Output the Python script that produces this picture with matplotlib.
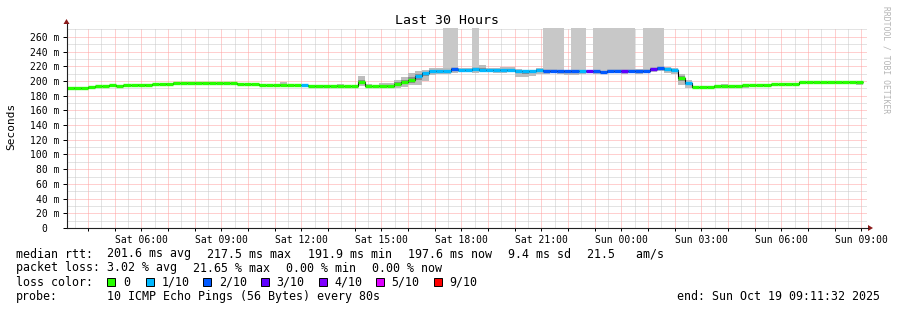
import matplotlib
matplotlib.use("Agg")
import matplotlib.pyplot as plt
from matplotlib.lines import Line2D
from matplotlib.patches import Rectangle, Polygon
import numpy as np

W, H = 897, 310
plt.rcParams['font.family'] = ['DejaVu Sans Mono']

# window: Sat 03:11:32 -> Sun 09:11:32, bins of 16 min
t0 = 3 + 11 / 60 + 32 / 3600
korak = 16 / 60

# median rtt per bin (ms)
median = [191, 191, 191, 192, 193, 193, 194, 193.5, 194.5, 194.5,
          195, 195, 196, 196, 196.5, 197.5, 197, 197.5, 197.5, 197.5,
          197.5, 197, 197, 197, 196, 196, 196, 195, 194.5, 194.5,
          194.5, 194.5, 194.5, 194, 193.5, 193.5, 193.5, 193.5, 193.5, 193,
          193, 198, 193, 192.5, 192.5, 192.5, 195.5, 198.5, 201, 207,
          211, 214, 214, 214, 216, 215.5, 215.5, 216, 215.5, 215.5,
          215.5, 215.5, 215.5, 214, 213, 213, 214.5, 214, 214, 213.5,
          213.5, 213.5, 213.5, 213.5, 213, 212, 214, 214, 214, 214,
          214, 214, 216.5, 217.5, 216.5, 214.5, 204, 197, 192, 191.5,
          192, 192.5, 193, 193, 193.5, 194, 194.5, 194.5, 195, 195.5,
          195.5, 196.5, 196.5, 198, 198, 198, 198, 198, 198, 198,
          198, 198]

# lost pings out of 10 per bin
izguba = [0, 0, 0, 0, 0, 0, 0, 0, 0, 0,
          0, 0, 0, 0, 0, 0, 0, 0, 0, 0,
          0, 0, 0, 0, 0, 0, 0, 0, 0, 0,
          0, 0, 0, 1, 0, 0, 0, 0, 0, 0,
          0, 0, 0, 0, 0, 0, 0, 0, 0, 1,
          1, 1, 1, 1, 2, 1, 1, 1, 1, 1,
          1, 1, 1, 1, 1, 1, 1, 2, 2, 2,
          2, 2, 1, 3, 2, 2, 2, 2, 3, 2,
          2, 2, 3, 2, 1, 1, 0, 1, 0, 0,
          0, 0, 0, 0, 0, 0, 0, 0, 0, 0,
          0, 0, 0, 0, 0, 0, 0, 0, 0, 0,
          0, 0]

# smoke spread below / above the median (ms)
smoke_dn = [2.5, 3, 3, 2.5, 1, 1, 1, 1.5, 1, 1,
            1, 1, 1, 1, 1, 1, 1, 1, 1, 1,
            1, 1, 1, 1, 1, 1, 1, 1, 1, 1,
            1, 3, 1, 1, 1, 1, 1, 1, 1, 1,
            1, 5, 1, 1, 1, 1, 5.5, 6.5, 7, 12,
            11, 6, 5, 4, 5, 4, 4, 5, 4, 4,
            5, 5, 4, 8, 7, 6, 5, 4, 3, 4,
            6, 6, 4, 3, 4, 3, 3, 3, 4, 3,
            4, 3, 4, 4, 6, 5, 10, 7, 2, 1,
            1, 1, 1, 1, 2, 3, 1, 1, 1, 1,
            1, 1, 1, 1, 1, 1, 2, 2, 1, 2,
            1, 3]
smoke_up = [0.5, 0.5, 0.5, 0.5, 0.5, 0.5, 0.5, 0.5, 0.5, 0.5,
            0.5, 0.5, 0.5, 0.5, 0.5, 0.5, 0.5, 0.5, 0.5, 0.5,
            0.5, 0.5, 0.5, 0.5, 0.5, 0.5, 0.5, 0.5, 0.5, 0.5,
            3.5, 0.5, 0.5, 0.5, 0.5, 0.5, 0.5, 0.5, 3, 0.5,
            0.5, 8.5, 3, 1, 5, 5, 5.5, 7.5, 9.5, 6.5,
            4, 3, 3, 3, 3, 2, 2, 3, 6, 2,
            2, 3, 3, 2, 2, 2, 3, 2, 2, 2,
            2, 2, 2, 2, 2, 2, 2, 2, 2, 2,
            2, 2, 3, 3, 3, 3, 6, 4, 1, 0.5,
            0.5, 2.5, 2.5, 0.5, 0.5, 0.5, 0.5, 0.5, 0.5, 0.5,
            0.5, 0.5, 0.5, 0.5, 0.5, 0.5, 0.5, 0.5, 0.5, 0.5,
            0.5, 0.5]

# bins where smoke is missing (drawn up to the top)
loss_bins = [53, 54, 57, 67, 68, 69, 71, 72, 74, 75, 76, 77, 78, 79, 81, 82, 83]

loss_labels = ['0', '1/10', '2/10', '3/10', '4/10', '5/10', '9/10']
loss_colors = ['#26ff00', '#00b8ff', '#0059ff', '#5e00ff', '#7e00ff', '#dd00ff', '#ff0000']
barve = {0: '#26ff00', 1: '#00b8ff', 2: '#0059ff', 3: '#5e00ff', 4: '#7e00ff', 5: '#dd00ff'}

tick_hours = [6, 9, 12, 15, 18, 21, 24, 27, 30, 33]
tick_labels = ['Sat 06:00', 'Sat 09:00', 'Sat 12:00', 'Sat 15:00', 'Sat 18:00',
               'Sat 21:00', 'Sun 00:00', 'Sun 03:00', 'Sun 06:00', 'Sun 09:00']

rtt_items = ['201.6 ms avg', '217.5 ms max', '191.9 ms min', '197.6 ms now', '9.4 ms sd', '21.5   am/s']
loss_items = ['3.02 % avg', '21.65 % max', '0.00 % min', '0.00 % now']
probe_text = '10 ICMP Echo Pings (56 Bytes) every 80s'
end_text = 'end: Sun Oct 19 09:11:32 2025'


def fx(x):
    return x / W


def fy(y):
    return 1 - y / H


fig = plt.figure(figsize=(W / 100, H / 100), dpi=100)
fig.patch.set_facecolor('white')
ax = fig.add_axes([fx(66.5), fy(228), 800 / W, 200 / H])
ytop = 272

med = np.array(median, dtype=float)
n = len(med)
edges = np.arange(n + 1) * korak
lo = med - np.array(smoke_dn)
hi = med + np.array(smoke_up)

# grid
hours = np.arange(4, 34)
ax.set_xticks(hours - t0)
ax.set_xticklabels([tick_labels[tick_hours.index(h)] if h in tick_hours else '' for h in hours])
ax.set_xticks(np.arange(3.5, 33.0, 1.0) - t0, minor=True)
yt = np.arange(0, 261, 20)
ax.set_yticks(yt)
ax.set_yticklabels(['%d m' % v if v else '0  ' for v in yt])
ax.set_yticks(np.arange(10, 271, 20), minor=True)
ax.set_xlim(0, 30)
ax.set_ylim(0, ytop)
ax.grid(True, which='major', color='#ffa0a0', lw=0.72, ls=(0, (1, 1)))
ax.grid(True, which='minor', color='#c8c8c8', lw=0.72, ls=(0, (1, 1)))
ax.set_axisbelow(True)

ax.tick_params(axis='x', which='major', length=2, width=0.72, pad=3, labelsize=7)
ax.tick_params(axis='y', which='major', length=3, width=0.72, pad=2, labelsize=7)
ax.tick_params(which='minor', length=0)
for s in ['top', 'right', 'left', 'bottom']:
    ax.spines[s].set_visible(False)

# loss bars
for b in loss_bins:
    ax.bar(edges[b], ytop - med[b], bottom=med[b], width=korak, align='edge',
           color='#c8c8c8', lw=0, zorder=2)

# smoke
ax.fill_between(edges, np.append(lo, lo[-1]), np.append(hi, hi[-1]), step='post',
                color='#bdbdbd', lw=0, zorder=3)
lo2 = med - 0.45 * np.array(smoke_dn)
hi2 = med + 0.45 * np.array(smoke_up)
ax.fill_between(edges, np.append(lo2, lo2[-1]), np.append(hi2, hi2[-1]), step='post',
                color='#8c8c8c', lw=0, zorder=3)

# median
ax.stairs(med, edges, baseline=None, color='black', lw=0.8, zorder=4)
ax.hlines(med, edges[:-1], edges[1:], colors=[barve[k] for k in izguba], lw=2.4, zorder=5)
ax.set_xlim(0, 30)
ax.set_ylim(0, ytop)

# axes with arrows
arrow_c = '#8b1a1a'
fig.add_artist(Line2D([fx(66.5), fx(868)], [fy(228), fy(228)], color='#202020', lw=0.8))
fig.add_artist(Line2D([fx(66.5), fx(66.5)], [fy(228), fy(24)], color='#202020', lw=0.8))
fig.add_artist(Polygon([[fx(868), fy(225)], [fx(873), fy(228)], [fx(868), fy(231)]],
                       closed=True, color=arrow_c, lw=0))
fig.add_artist(Polygon([[fx(63.5), fy(24)], [fx(66.5), fy(19)], [fx(69.5), fy(24)]],
                       closed=True, color=arrow_c, lw=0))

# texts
fig.text(fx(447), fy(20), 'Last 30 Hours', ha='center', va='center', fontsize=9.5)
fig.text(fx(11), fy(126), 'Seconds', ha='center', va='center', rotation=90, fontsize=8)
fig.text(fx(886), fy(60), 'RRDTOOL / TOBI OETIKER', ha='center', va='center',
         rotation=270, fontsize=5.8, color='#b4b4b4')

fs = 8.4
fig.text(fx(16), fy(254), 'median rtt:', ha='left', va='center', fontsize=fs)
for item, x in zip(rtt_items, [107, 207, 308, 408, 508, 587]):
    fig.text(fx(x), fy(254), item, ha='left', va='center', fontsize=fs)
fig.text(fx(16), fy(268), 'packet loss:', ha='left', va='center', fontsize=fs)
for item, x in zip(loss_items, [107, 193, 286, 372]):
    fig.text(fx(x), fy(268), item, ha='left', va='center', fontsize=fs)
fig.text(fx(16), fy(282), 'loss color:', ha='left', va='center', fontsize=fs)
bx = 107.3
for lab, c in zip(loss_labels, loss_colors):
    fig.add_artist(Rectangle((fx(bx), fy(285.7)), 8 / W, 8 / H, facecolor=c,
                             edgecolor='black', lw=0.7))
    fig.text(fx(bx + 15.5), fy(282), lab, ha='left', va='center', fontsize=fs)
    bx += 32 + 6.4 * len(lab)
fig.text(fx(16), fy(296.5), 'probe:', ha='left', va='center', fontsize=fs)
fig.text(fx(107), fy(296.5), probe_text, ha='left', va='center', fontsize=fs)
fig.text(fx(880), fy(296.5), end_text, ha='right', va='center', fontsize=fs)

fig.savefig('out.png', dpi=100)
